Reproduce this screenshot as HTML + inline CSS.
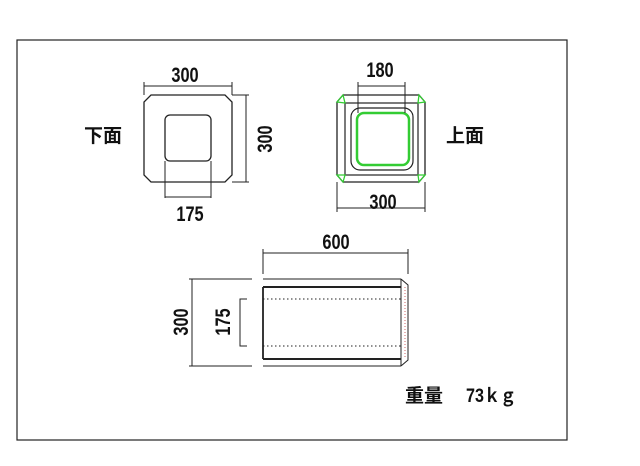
<!DOCTYPE html>
<html><head><meta charset="utf-8"><style>
html,body{margin:0;padding:0;background:#fff;width:640px;height:466px;overflow:hidden}
svg text{font-family:"Liberation Sans","Noto Sans CJK JP",sans-serif;font-weight:bold;fill:#111}
</style></head><body>
<svg width="640" height="466" viewBox="0 0 640 466" xmlns="http://www.w3.org/2000/svg">
<rect x="17" y="40" width="550" height="400" fill="none" stroke="#222" stroke-width="1.2"/>
<g stroke="#222" fill="none" stroke-width="1">
<polygon points="151,95 225,95 232,102 232,175 225,182 151,182 144,175 144,102" stroke-width="1.3"/>
<rect x="165" y="115" width="46" height="46" rx="5" stroke-width="1.3"/>
<line x1="144" y1="86" x2="232" y2="86"/><line x1="144" y1="82" x2="144" y2="95"/><line x1="232" y1="82" x2="232" y2="95"/>
<line x1="246" y1="95" x2="246" y2="182"/><line x1="232" y1="95" x2="249" y2="95"/><line x1="232" y1="182" x2="249" y2="182"/>
<line x1="165" y1="161" x2="165" y2="198"/><line x1="211" y1="161" x2="211" y2="198"/><line x1="165" y1="197" x2="211" y2="197"/>
<polygon points="343,95 419,95 425,102 425,175 419,182 343,182 337,175 337,102" stroke-width="1.3"/>
<rect x="345" y="103" width="73" height="72" stroke-width="1.2"/>
<rect x="351" y="108" width="62" height="62" rx="9" stroke-width="1.2"/>
<rect x="357" y="113" width="52" height="52" rx="7" stroke="#3c3" stroke-width="2.5"/>
<g stroke="#3c3" stroke-width="1.3">
<polygon points="343,95 337,102 345,103"/><polygon points="419,95 425,102 418,103"/>
<polygon points="343,182 337,175 345,175"/><polygon points="419,182 425,175 418,175"/>
</g>
<line x1="358" y1="86" x2="405" y2="86"/><line x1="358" y1="82" x2="358" y2="113"/><line x1="405" y1="82" x2="405" y2="113"/>
<line x1="337" y1="208" x2="425" y2="208"/><line x1="337" y1="182" x2="337" y2="212"/><line x1="425" y1="182" x2="425" y2="212"/>
<line x1="263" y1="279" x2="401" y2="279"/><line x1="263" y1="366" x2="401" y2="366"/>
<line x1="263" y1="287" x2="401" y2="287" stroke-width="2"/><line x1="263" y1="359" x2="401" y2="359" stroke-width="2"/>
<line x1="263" y1="287" x2="263" y2="359" stroke-width="1.8"/>
<line x1="401" y1="279" x2="401" y2="366"/>
<polyline points="401,279 408,285 408,360 401,366"/>
<line x1="263" y1="299" x2="401" y2="299" stroke-dasharray="1.5 2.5"/>
<line x1="263" y1="346" x2="401" y2="346" stroke-dasharray="1.5 2.5"/>
<line x1="405" y1="287" x2="405" y2="359" stroke="#c66" stroke-dasharray="1 2"/>
<line x1="263" y1="253" x2="408" y2="253"/><line x1="263" y1="249" x2="263" y2="274"/><line x1="408" y1="249" x2="408" y2="274"/>
<line x1="192" y1="279" x2="192" y2="366"/><line x1="189" y1="279" x2="252" y2="279"/><line x1="189" y1="366" x2="252" y2="366"/>
<polyline points="247,299 240,299 240,346 247,346"/>
</g>
<g font-size="21" text-anchor="middle">
<text transform="translate(185 82) scale(0.78 1)">300</text>
<text transform="translate(190 221) scale(0.78 1)">175</text>
<text transform="translate(272 139) rotate(-90) scale(0.78 1)">300</text>
<text transform="translate(380 77) scale(0.78 1)">180</text>
<text transform="translate(383 209) scale(0.78 1)">300</text>
<text transform="translate(336 249) scale(0.78 1)">600</text>
<text transform="translate(188 322) rotate(-90) scale(0.78 1)">300</text>
<text transform="translate(230 322) rotate(-90) scale(0.78 1)">175</text>
</g>
<g font-size="19">
<text x="84" y="142">下面</text>
<text x="446" y="142">上面</text>
<text x="405" y="402">重量</text>
<text transform="translate(466 402) scale(0.85 1)">73ｋｇ</text>
</g>
</svg>
</body></html>
